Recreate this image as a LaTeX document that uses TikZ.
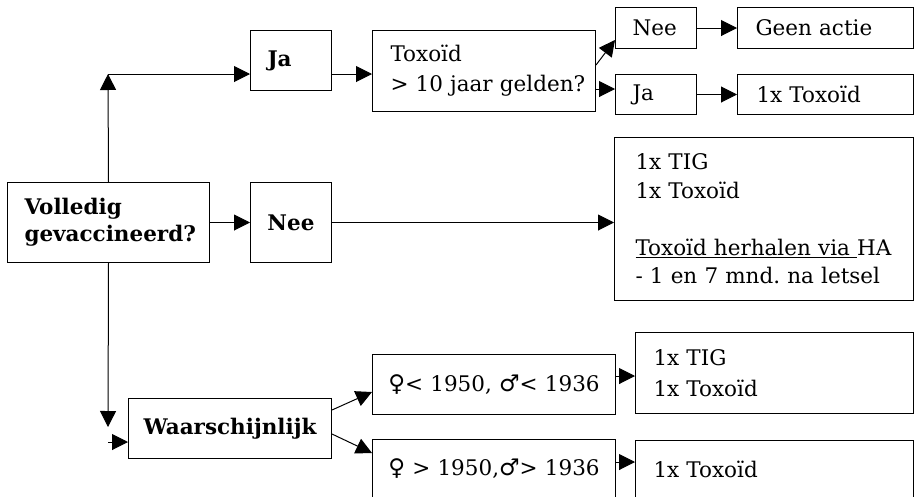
\documentclass[tikz,border=0pt]{standalone}
\usepackage{fontspec}
\setmainfont{DejaVu Serif}
\newfontfamily\symfont{DejaVu Sans}
\usetikzlibrary{arrows.meta,calc}
\newcommand{\fem}{{\symfont\fontsize{23}{23}\selectfont ♀}}
\newcommand{\mal}{{\symfont\fontsize{23}{23}\selectfont ♂}}
\begin{document}
\frenchspacing
\begin{tikzpicture}[x=1pt,y=-1pt,
  bx/.style={draw, line width=1pt, anchor=north west, inner ysep=0pt, align=left,
    font=\fontsize{21.5}{29}\selectfont},
  bold/.style={font=\fontsize{21.5}{27}\selectfont\bfseries},
  arr/.style={line width=1pt, -{Triangle[length=16pt,width=16pt]}},
]
\useasboundingbox (0,0) rectangle (915,496);

\node[bx, bold, minimum height=80, inner xsep=17, text width=168] (vol) at (7,182) {Volledig\\\mbox{gevaccineerd?}};
\node[bx, bold, minimum height=80, inner xsep=8, text width=65, align=center] (nee1) at (250,182) {Nee};
\node[bx, bold, minimum height=60, inner xsep=17, text width=47] (ja1) at (250,30) {Ja};
\node[bx, minimum height=81, inner xsep=18, text width=187, font=\fontsize{21.5}{30}\selectfont] (tox) at (372,30) {Toxoïd\\\mbox{> 10 jaar gelden?}};
\node[bx, minimum height=41, inner xsep=17, text width=47] (nee2) at (615,7) {Nee};
\node[bx, minimum height=41, inner xsep=18, text width=140] (geen) at (737,7) {\mbox{Geen actie}};
\node[bx, minimum height=40, inner xsep=17, text width=47] (ja2) at (615,74) {Ja};
\node[bx, minimum height=40, inner xsep=19, text width=138] (tox2) at (737,74) {\mbox{1x Toxoïd}};
\node[bx, minimum height=163, inner xsep=21, text width=257, font=\fontsize{21.5}{28.5}\selectfont] (big) at (614,137)
  {1x TIG\\1x Toxoïd\\[28.5pt]\mbox{\underline{Toxoïd herhalen via\ }HA}\\\mbox{- 1 en 7 mnd. na letsel}};
\node[bx, bold, minimum height=60, inner xsep=8, text width=187, align=center] (waar) at (128,398) {Waarschijnlijk};
\node[bx, minimum height=60, inner xsep=8, text width=227, align=center] (f1) at (372,354) {\mbox{\fem< 1950, \mal< 1936}};
\node[bx, minimum height=58, inner xsep=8, text width=227, align=center] (f2) at (372,439) {\mbox{\fem\ > 1950,\mal> 1936}};
\node[bx, minimum height=81, inner xsep=18, text width=242, font=\fontsize{21.5}{31}\selectfont] (tig2) at (635,332) {1x TIG\\1x Toxoïd};
\node[bx, minimum height=57, inner xsep=18, text width=242] (tox3) at (635,440) {1x Toxoïd};

\coordinate (c1) at (108,74);
\coordinate (c2) at (108,427);
\coordinate (c3) at (108,442);

\draw[arr] (vol.north) -- (c1);
\draw[arr] (c1) -- (c1 -| ja1.west);
\draw[arr] (c1 -| ja1.east) -- (c1 -| tox.west);
\draw[arr] ($(tox.north east)+(0,35)$) -- ($(nee2.north west)+(0,33)$);
\draw[arr] ($(tox.north east)+(0,59)$) -- ($(ja2.north west)+(0,15)$);
\draw[arr] (nee2.east) -- (geen.west);
\draw[arr] (ja2.east) -- (tox2.west);
\draw[arr] (vol.east) -- (nee1.west);
\draw[arr] (nee1.east) -- (nee1.east -| big.west);
\draw[arr] (vol.south) -- (c2);
\draw[arr] (c3) -- (c3 -| waar.west);
\draw[arr] ($(waar.north east)+(0,12)$) -- ($(f1.north west)+(0,38)$);
\draw[arr] ($(waar.north east)+(0,36)$) -- ($(f2.north west)+(0,14)$);
\draw[arr] ($(f1.north east)+(0,22)$) -- ($(tig2.north west)+(0,44)$);
\draw[arr] ($(f2.north east)+(0,23)$) -- ($(tox3.north west)+(0,22)$);
\end{tikzpicture}
\end{document}
